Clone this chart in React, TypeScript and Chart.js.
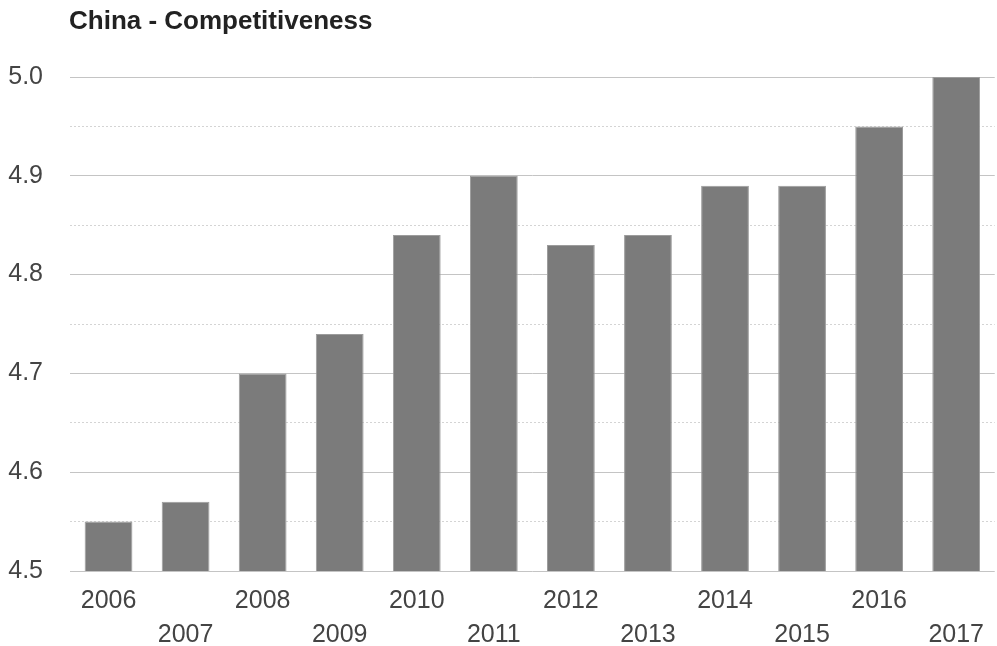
import React, { useEffect, useRef } from "react";
import { Chart, registerables } from "chart.js";

Chart.register(...registerables);

const title = "China - Competitiveness";
const years = ["2006", "2007", "2008", "2009", "2010", "2011", "2012", "2013", "2014", "2015", "2016", "2017"];
const competitiveness = [4.55, 4.57, 4.7, 4.74, 4.84, 4.9, 4.83, 4.84, 4.89, 4.89, 4.95, 5.0];
const yMin = 4.5;
const yMax = 5.0;
const yStep = 0.05;

const FONT = "'Liberation Sans', Arial, sans-serif";

const isMajor = (v: number) => Math.round(v * 100) % 10 === 0;

const titlePlugin = {
  id: "leftTitle",
  afterDraw(chart: any) {
    const ctx = chart.ctx;
    ctx.save();
    ctx.font = `bold 26px ${FONT}`;
    ctx.fillStyle = "#222222";
    ctx.textBaseline = "middle";
    ctx.textAlign = "left";
    ctx.fillText(title, chart.chartArea.left - 1, 22);
    ctx.restore();
  },
};

export default function App() {
  const ref = useRef<HTMLCanvasElement | null>(null);
  useEffect(() => {
    if (!ref.current) return;
    const chart = new Chart(ref.current, {
      type: "bar",
      data: {
        labels: years,
        datasets: [
          {
            data: competitiveness,
            backgroundColor: "#7b7b7b",
            borderColor: "#9c9c9c",
            borderWidth: 1,
            barPercentage: 0.62,
            categoryPercentage: 1,
          },
        ],
      },
      plugins: [titlePlugin],
      options: {
        responsive: false,
        animation: false,
        layout: { padding: { top: 77, right: 0, left: 0, bottom: 0 } },
        plugins: { legend: { display: false }, title: { display: false }, tooltip: { enabled: false } },
        scales: {
          x: {
            grid: { display: false, drawTicks: false },
            border: { display: false },
            afterFit: (s: any) => {
              s.height = 75;
            },
            ticks: {
              autoSkip: false,
              maxRotation: 0,
              padding: 13,
              color: "#444444",
              font: { family: FONT, size: 25, lineHeight: 1.36 },
              callback: (_v: any, i: number) => (i % 2 === 0 ? [years[i], ""] : ["", years[i]]),
            },
          },
          y: {
            min: yMin,
            max: yMax,
            afterFit: (s: any) => {
              s.width = 70;
            },
            grid: {
              drawTicks: false,
              lineWidth: 1,
              color: (c: any) => (c.tick && isMajor(c.tick.value) ? "#c4c4c4" : "#d4d4d4"),
            },
            border: {
              display: false,
              dash: (c: any) => (c.tick && isMajor(c.tick.value) ? [] : [2, 2]),
            },
            ticks: {
              stepSize: yStep,
              padding: 27,
              color: "#444444",
              font: { family: FONT, size: 25 },
              callback: (v: any) => (isMajor(Number(v)) ? Number(v).toFixed(1) : ""),
            },
          },
        },
      },
    });
    return () => chart.destroy();
  }, []);
  return (
    <div style={{ position: "fixed", left: 0, top: 0, width: 997, height: 646, background: "#fff" }}>
      <canvas ref={ref} width={997} height={646} />
    </div>
  );
}
